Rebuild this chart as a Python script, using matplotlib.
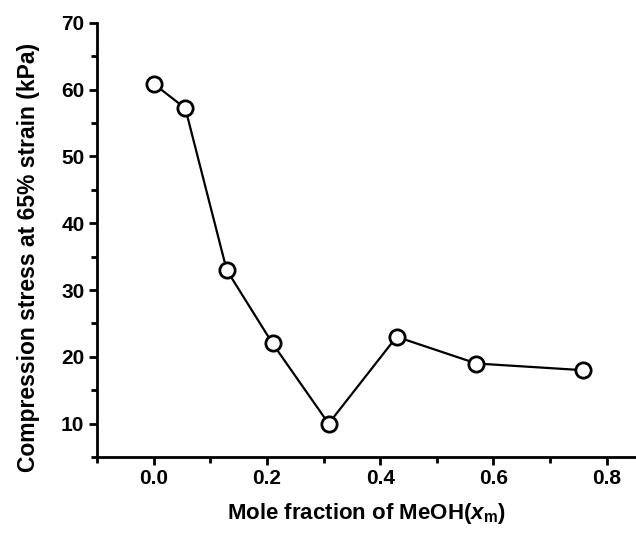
import matplotlib
matplotlib.use('Agg')
import matplotlib.pyplot as plt
from matplotlib.ticker import MultipleLocator

x_meoh = [0.0, 0.056, 0.129, 0.21, 0.309, 0.429, 0.57, 0.758]
stress = [60.9, 57.2, 33.0, 22.0, 10.0, 23.0, 19.0, 18.0]

plt.rcParams['font.family'] = ['Liberation Sans', 'DejaVu Sans']
plt.rcParams['font.weight'] = 'bold'
plt.rcParams['mathtext.fontset'] = 'custom'
plt.rcParams['mathtext.bfit'] = 'Liberation Sans:bold:italic'
plt.rcParams['mathtext.bf'] = 'Liberation Sans:bold'

fig = plt.figure(figsize=(6.36, 5.33), dpi=100)
ax = fig.add_axes([0.1525, 0.1426, 0.846, 0.8144])

ax.plot(x_meoh, stress, color='black', lw=1.6, marker='o', ms=11,
        mfc='white', mec='black', mew=2, clip_on=False, zorder=3)

ax.set_xlim(-0.1, 0.85)
ax.set_ylim(5, 70)
ax.xaxis.set_minor_locator(MultipleLocator(0.1))
ax.yaxis.set_minor_locator(MultipleLocator(5))
ax.set_xticks([0.0, 0.2, 0.4, 0.6, 0.8])
ax.set_xticklabels(['0.0', '0.2', '0.4', '0.6', '0.8'])
ax.set_yticks([10, 20, 30, 40, 50, 60, 70])

for s in ['top', 'right']:
    ax.spines[s].set_visible(False)
for s in ['left', 'bottom']:
    ax.spines[s].set_linewidth(2)

ax.tick_params(which='major', direction='out', length=6, width=2,
               labelsize=15, pad=3)
ax.tick_params(which='minor', direction='out', length=4, width=2)

ax.set_xlabel('Mole fraction of MeOH($\\mathbfit{x}_{\\mathbf{m}}$)', fontsize=16,
              fontweight='bold', labelpad=9)
ax.set_ylabel('Compression stress at 65% strain (kPa)', fontsize=16.5,
              fontweight='bold', labelpad=15)
ax.yaxis.label.set_y(0.46)

plt.savefig('out.png', dpi=100)
